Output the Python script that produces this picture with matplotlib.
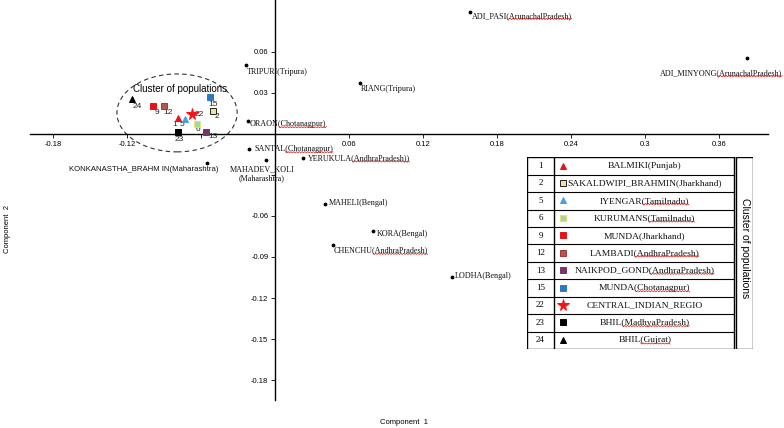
import numpy as np
import matplotlib
matplotlib.use("Agg")
import matplotlib.pyplot as plt
from matplotlib.patches import Ellipse
from matplotlib.lines import Line2D

# ---------------- data ----------------
named_labels = ["ADI_PASI", "ADI_MINYONG", "TRIPURI", "RIANG", "ORAON", "SANTAL",
                "MAHADEV_KOLI", "KONKANASTHA_BRAHM IN", "YERUKULA", "MAHELI", "KORA",
                "CHENCHU", "LODHA"]
named_regions = ["(ArunachalPradesh)", "(ArunachalPradesh)", "(Tripura)", "(Tripura)",
                 "(Chotanagpur)", "(Chotanagpur)", "\n(Maharashtra)", "(Maharashtra)",
                 "(AndhraPradesh))", "(Bengal)", "(Bengal)", "(AndhraPradesh)", "(Bengal)"]
named_x = [0.1579, 0.3823, -0.0240, 0.0685, -0.0219, -0.0213, -0.0078, -0.0552,
           0.0222, 0.0403, 0.0795, 0.0470, 0.1431]
named_y = [0.0890, 0.0556, 0.0505, 0.0371, 0.0097, -0.0110, -0.0190, -0.0210,
           -0.0173, -0.0512, -0.0707, -0.0814, -0.1044]
named_spell = [True, True, False, False, True, True, False, False, True, False, False, True, False]

cluster_ids = [1, 2, 5, 6, 9, 12, 13, 15, 22, 23, 24]
cluster_names = ["BALMIKI", "SAKALDWIPI_BRAHMIN", "IYENGAR", "KURUMANS", "MUNDA",
                 "LAMBADI", "NAIKPOD_GOND", "MUNDA", "CENTRAL_INDIAN_REGIO", "BHIL", "BHIL"]
cluster_regions = ["(Punjab)", "(Jharkhand)", "(Tamilnadu)", "(Tamilnadu)", "(Jharkhand)",
                   "(AndhraPradesh)", "(AndhraPradesh)", "(Chotanagpur)", "", "(MadhyaPradesh)",
                   "(Gujrat)"]
cluster_spell = [False, False, True, True, False, True, True, True, False, True, True]
cluster_x = [-0.0792, -0.0503, -0.0732, -0.0637, -0.0989, -0.0903, -0.0562, -0.0530,
             -0.0678, -0.0792, -0.1160]
cluster_y = [0.0119, 0.0166, 0.0112, 0.0073, 0.0205, 0.0205, 0.0017, 0.0268,
             0.0146, 0.0017, 0.0254]

x_ticks = [-0.18, -0.12, -0.06, 0.06, 0.12, 0.18, 0.24, 0.30, 0.36]
x_ticklabels = ["-0.18", "-0.12", "", "0.06", "0.12", "0.18", "0.24", "0.3", "0.36"]
y_ticks = [0.06, 0.03, -0.03, -0.06, -0.09, -0.12, -0.15, -0.18]
y_ticklabels = ["0.06", "0.03", "", "-0.06", "-0.09", "-0.12", "-0.15", "-0.18"]

# ---------------- styles ----------------
c_marker = {1: "^", 2: "s", 5: "^", 6: "s", 9: "s", 12: "s", 13: "s", 15: "s", 22: "*", 23: "s", 24: "^"}
c_face = {1: "#e3141b", 2: "#f3e49a", 5: "#4a9fdc", 6: "#a6d89c", 9: "#e3141b", 12: "#c0504d",
          13: "#7a3468", 15: "#2f78c0", 22: "#f0141b", 23: "#000000", 24: "#000000"}
c_edge = {1: "#e3141b", 2: "#222222", 5: "#4a9fdc", 6: "#e4e36a", 9: "#e3141b", 12: "#9a3a38",
          13: "#7a3468", 15: "#2f78c0", 22: "#f0141b", 23: "#000000", 24: "#000000"}
c_size = {1: 5, 2: 4.5, 5: 5, 6: 5, 9: 5, 12: 5, 13: 5, 15: 5, 22: 8.5, 23: 5, 24: 5}
c_off = {24: (5, -7), 9: (4, -7), 12: (4, -7), 1: (-3, -7), 5: (-3, -6), 22: (8, 0),
         15: (3, -7), 2: (4, -5), 6: (1, -6), 13: (7, -5), 23: (2, -8)}
n_off = [(2, -3.4, "left"), (36, -15, "right"), (1.6, -6.7, "left"), (1, -6, "left"),
         (1.7, -3.3, "left"), (5, 0, "left"), (-3.7, -13.8, "center"), (11.7, -7.3, "right"),
         (5.3, -0.6, "left"), (4.3, 1.3, "left"), (3.7, -3.3, "left"), (0.7, -5.4, "left"),
         (3.3, 1, "left")]

SERIF = "Liberation Serif"
SANS = "Liberation Sans"
W, H = 784, 428

fig = plt.figure(figsize=(W / 100, H / 100), dpi=100)
ax = fig.add_axes([0, 0, 1, 1])
ax.set_xlim(-0.2233, 0.4126)
ax.set_ylim(-0.2151, 0.0980)
ax.patch.set_alpha(0)

for s in ["top", "right"]:
    ax.spines[s].set_visible(False)
ax.spines["left"].set_position(("data", 0))
ax.spines["bottom"].set_position(("data", 0))
ax.spines["left"].set_bounds(-0.1946, 0.098)
ax.spines["bottom"].set_bounds(-0.199, 0.3995)
for s in ["left", "bottom"]:
    ax.spines[s].set_linewidth(1.0)
ax.set_xticks(x_ticks)
ax.set_xticklabels(x_ticklabels)
ax.set_yticks(y_ticks)
ax.set_yticklabels(y_ticklabels)
ax.tick_params(axis="both", direction="out", length=3, width=0.6, labelsize=5.5, pad=2)
for lab in ax.get_xticklabels() + ax.get_yticklabels():
    lab.set_fontfamily(SANS)

fig.text(404 / W, 1 - 422 / H, "Component  1", fontsize=5.5, family=SANS, ha="center", va="center")
fig.text(8 / W, 1 - 229 / H, "Component  2", fontsize=5.5, family=SANS, ha="center", va="center",
         rotation=90)

# named points
spell_items = []
ax.scatter(named_x, named_y, s=3, color="black", zorder=3)
for i, (lab, reg) in enumerate(zip(named_labels, named_regions)):
    dx, dy, ha = n_off[i]
    fam = SANS if lab.startswith("KONKAN") else SERIF
    fs = 5.6 if lab.startswith("KONKAN") else 5.9
    t = ax.annotate(lab + reg, (named_x[i], named_y[i]), xytext=(dx, dy),
                    textcoords="offset pixels", ha=ha, va="center", fontsize=fs,
                    family=fam, multialignment="center", color="#111111")
    if named_spell[i]:
        spell_items.append((t, lab))

# cluster points
for i, cid in enumerate(cluster_ids):
    ax.plot(cluster_x[i], cluster_y[i], marker=c_marker[cid], ms=c_size[cid],
            mfc=c_face[cid], mec=c_edge[cid], mew=0.7, ls="none", zorder=4)
    dx, dy = c_off[cid]
    ax.annotate(str(cid), (cluster_x[i], cluster_y[i]), xytext=(dx, dy),
                textcoords="offset pixels", ha="center", va="center", fontsize=6,
                family=SANS, color="#222222")

ell = Ellipse((-0.0797, 0.0154), 0.0975, 0.057, fill=False, ls=(0, (4, 3)), lw=0.8,
              ec="#333333", zorder=2)
ax.add_patch(ell)
ax.text(-0.0770, 0.0330, "Cluster of populations", fontsize=7, family=SANS,
        ha="center", va="center")

# ---------------- table ----------------
tx0, ty0, tx1, ty1 = 527, 157.3, 753, 349
tab = fig.add_axes([tx0 / W, 1 - ty1 / H, (tx1 - tx0) / W, (ty1 - ty0) / H])
tab.set_xlim(0, tx1 - tx0)
tab.set_ylim(ty1 - ty0, 0)
tab.axis("off")
nrows = len(cluster_ids)
rh = (ty1 - ty0) / nrows
c1, c2, c2b, c3 = 27, 206.5, 209, 226
lk = dict(color="black", lw=1.0)
tab.plot([0, c2], [0, 0], **lk)
tab.plot([0, c2], [ty1 - ty0, ty1 - ty0], **lk)
for r in range(1, nrows):
    tab.plot([0, c2], [r * rh, r * rh], color="black", lw=0.8)
for xv in [0, c1, c2]:
    tab.plot([xv, xv], [0, ty1 - ty0], **lk)
tab.plot([c2b, c3, c3, c2b, c2b], [0, 0, ty1 - ty0, ty1 - ty0, 0], **lk)
tab.text((c2b + c3) / 2 + 0.5, (ty1 - ty0) / 2 - 5, "Cluster of populations", rotation=-90,
         fontsize=7.5, family=SANS, ha="center", va="center")

for r, cid in enumerate(cluster_ids):
    yc = (r + 0.5) * rh
    tab.text(c1 / 2, yc, str(cid), fontsize=6.5, family=SERIF, ha="center", va="center")
    tab.plot(35.7, yc - 0.5, marker=c_marker[cid], ms=c_size[cid] * 0.9 if cid != 22 else 8.5,
             mfc=c_face[cid], mec=c_edge[cid], mew=0.7, ls="none", clip_on=False)
    t = tab.text((c1 + c2) / 2 + 1, yc, cluster_names[r] + cluster_regions[r], fontsize=6.8,
                 family=SERIF, ha="center", va="center", color="#111111")
    if cluster_spell[r]:
        spell_items.append((t, cluster_names[r]))

# ---------------- red wavy spell-check underlines ----------------
fig.canvas.draw()
renderer = fig.canvas.get_renderer()
for t, prefix in spell_items:
    bb = t.get_window_extent(renderer)
    tmp = fig.text(0, 0, prefix, fontproperties=t.get_fontproperties())
    wp = tmp.get_window_extent(renderer).width
    tmp.remove()
    x0 = bb.x0 + wp
    x1 = bb.x1
    y = bb.y0 + 0.8
    xs = np.arange(x0, x1, 1.4)
    ys = y + np.where(np.arange(len(xs)) % 2 == 0, 0.6, -0.6)
    fig.add_artist(Line2D(xs / W, ys / H, transform=fig.transFigure, color="#e01010", lw=0.5))

fig.savefig("out.png", dpi=100)
